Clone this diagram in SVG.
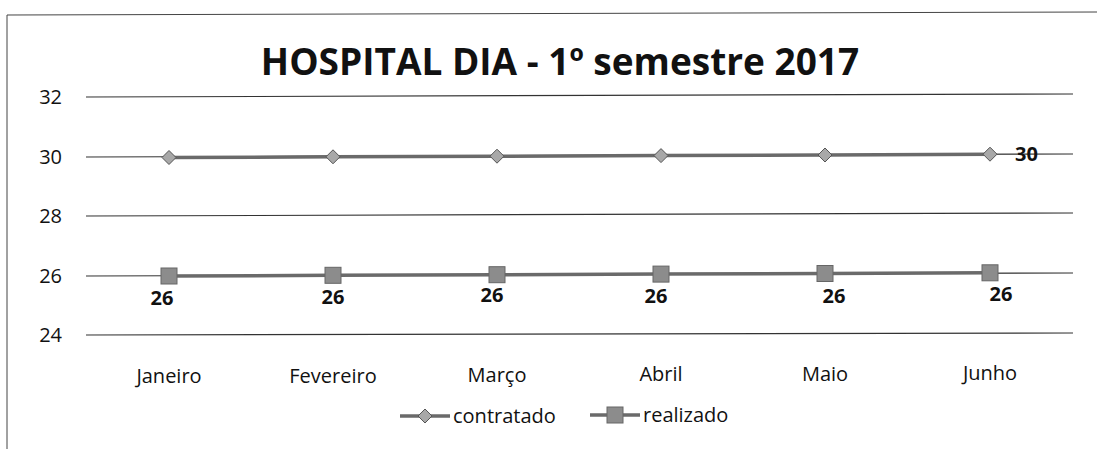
<svg xmlns="http://www.w3.org/2000/svg" width="1099" height="449" viewBox="0 0 1099 449">
<style>
.t{font-family:"Open Sans","Liberation Sans",sans-serif;fill:#111}
.ax{font-size:20px}
.lbl{font-size:20px;font-weight:bold}
.grid{stroke:#333;stroke-width:1.2}
.ser{stroke:#6a6a6a;stroke-width:3.5;fill:none}
.dia{fill:#a8a8a8;stroke:#555;stroke-width:1}
.sq{fill:#8c8c8c;stroke:#666;stroke-width:1}
</style>
<defs>
<path id="d" d="M0,-7 L7,0 L0,7 L-7,0 Z"/>
<rect id="s" x="-8" y="-8" width="16" height="16"/>
</defs>
<path d="M7,460 L7,15 L1097,12" fill="none" stroke="#444" stroke-width="1"/>
<text class="t" x="560" y="75" text-anchor="middle" font-size="37" font-weight="bold">HOSPITAL DIA - 1º semestre 2017</text>
<g id="axis">
<line class="grid" x1="86" y1="97" x2="1073" y2="94"/>
<line class="grid" x1="86" y1="157" x2="1073" y2="154"/>
<line class="grid" x1="86" y1="216" x2="1073" y2="213"/>
<line class="grid" x1="86" y1="276" x2="1073" y2="273"/>
<line class="grid" x1="86" y1="335" x2="1073" y2="333"/>
<text class="t ax" x="62" y="104" text-anchor="end">32</text>
<text class="t ax" x="62" y="164" text-anchor="end">30</text>
<text class="t ax" x="62" y="223" text-anchor="end">28</text>
<text class="t ax" x="62" y="283" text-anchor="end">26</text>
<text class="t ax" x="62" y="342" text-anchor="end">24</text>
<text class="t ax" x="169" y="383" text-anchor="middle">Janeiro</text>
<text class="t ax" x="333" y="383" text-anchor="middle">Fevereiro</text>
<text class="t ax" x="497" y="382" text-anchor="middle">Março</text>
<text class="t ax" x="661" y="381" text-anchor="middle">Abril</text>
<text class="t ax" x="825" y="381" text-anchor="middle">Maio</text>
<text class="t ax" x="990" y="380" text-anchor="middle">Junho</text>
</g>
<g id="connectors">
<polyline class="ser" points="169,157.5 333,156.8 497,156.2 661,155.6 825,155 990,154.2"/>
<polyline class="ser" points="169,276 333,275.3 497,274.7 661,274.1 825,273.5 990,272.8"/>
</g>
<g id="contratado">
<use href="#d" class="dia" x="169" y="157.5"/>
<use href="#d" class="dia" x="333" y="156.8"/>
<use href="#d" class="dia" x="497" y="156.2"/>
<use href="#d" class="dia" x="661" y="155.6"/>
<use href="#d" class="dia" x="825" y="155"/>
<use href="#d" class="dia" x="990" y="154.2"/>
<text class="t lbl" x="1015" y="161">30</text>
</g>
<g id="realizado">
<use href="#s" class="sq" x="169" y="276"/>
<use href="#s" class="sq" x="333" y="275.3"/>
<use href="#s" class="sq" x="497" y="274.7"/>
<use href="#s" class="sq" x="661" y="274.1"/>
<use href="#s" class="sq" x="825" y="273.5"/>
<use href="#s" class="sq" x="990" y="272.8"/>
<text class="t lbl" x="162" y="305" text-anchor="middle">26</text>
<text class="t lbl" x="333" y="304" text-anchor="middle">26</text>
<text class="t lbl" x="492" y="302" text-anchor="middle">26</text>
<text class="t lbl" x="656" y="303" text-anchor="middle">26</text>
<text class="t lbl" x="834" y="303" text-anchor="middle">26</text>
<text class="t lbl" x="1001" y="301" text-anchor="middle">26</text>
</g>
<g id="legend">
<line class="ser" x1="400" y1="416" x2="450" y2="416" stroke-width="3"/>
<use href="#d" class="dia" x="425" y="416"/>
<text class="t ax" x="453" y="423">contratado</text>
<line class="ser" x1="590" y1="415" x2="640" y2="415" stroke-width="3"/>
<use href="#s" class="sq" x="615" y="415"/>
<text class="t ax" x="643" y="422">realizado</text>
</g>
</svg>
